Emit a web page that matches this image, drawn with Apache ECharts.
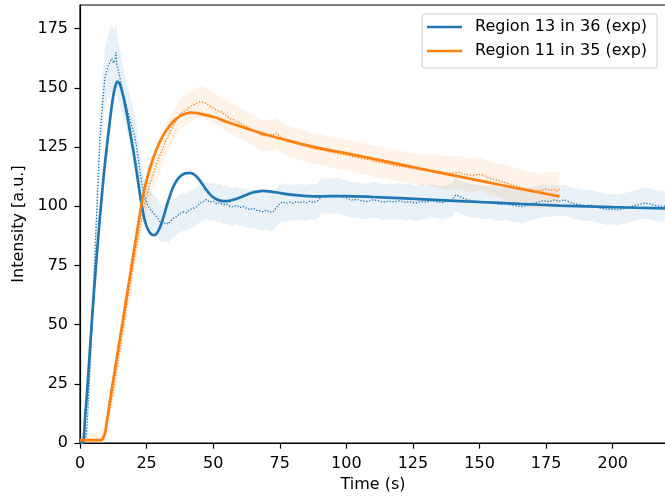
<!DOCTYPE html>
<html>
<head>
<meta charset="utf-8">
<script src="https://cdn.jsdelivr.net/npm/echarts@6/dist/echarts.min.js"></script>
<style>
  html, body { margin: 0; padding: 0; background: #fff; }
  #main-chart { width: 665px; height: 496px; }
</style>
</head>
<body>
<div id="main-chart"></div>
<script>
var blueName = 'Region 13 in 36 (exp)';
var orangeName = 'Region 11 in 35 (exp)';

var xTicks = [0, 25, 50, 75, 100, 125, 150, 175, 200];
var yTicks = [0, 25, 50, 75, 100, 125, 150, 175];

// blue: measured (dotted) + spread, then model (solid)
var blueExpT = [0, 1, 2, 2.5, 3.5, 4.5, 5.5, 6.5, 7.5, 8.5, 9.4, 10.5, 11.3, 11.9, 12.6, 13.2, 13.5, 13.8, 14.8, 16, 17.5, 19, 20.6, 21.8, 23, 24.4, 25.5, 26.5, 27.7, 28.8, 30, 31.3, 32.2, 33.1, 34, 35, 36.3, 37.5, 38.7, 40, 41.3, 42.5, 43.8, 45, 46.3, 47.5, 48.7, 50, 51.3, 52.5, 53.8, 55, 56.3, 57.5, 58.8, 60, 61.3, 62.5, 63.8, 65, 66.3, 67.5, 68.8, 70, 71.3, 72.5, 73.8, 75, 76.3, 77.5, 78.8, 80, 81.3, 82.5, 83.8, 85, 86.3, 87.5, 88.8, 90, 90.7, 92, 93.5, 95, 96.5, 97.6, 99, 100.5, 102, 104, 106, 108, 110, 112, 114, 116, 118, 120, 122, 124, 126, 128, 130, 132, 134, 136, 138, 139.5, 141, 142.5, 144, 146, 148, 150, 152, 154, 156, 158, 160, 162, 164, 166, 168, 170, 172, 174, 176, 178, 180, 182, 184, 186, 188, 190, 192, 194, 196, 198, 200, 202, 204, 206, 208, 210, 212, 213, 215, 217, 220];
var blueExpV = [0, 0, 1.5, 4, 25, 50, 77, 103, 129, 144, 154.7, 159, 161, 162.4, 160.5, 162, 165, 160, 155.4, 149, 142, 135.5, 129.4, 121, 111, 103, 100.2, 98.4, 96.9, 95.6, 93.5, 92.6, 93.1, 92.4, 93.8, 94.9, 95.6, 97, 97.6, 97.3, 98.6, 99.1, 99.8, 101.3, 101.9, 102.8, 101.7, 102.2, 101.1, 101.5, 100.6, 100.9, 99.9, 99.8, 100.4, 99.5, 99.9, 99.1, 98.6, 99.2, 98.3, 98.1, 97.7, 98.4, 97.5, 97.7, 99.5, 101.2, 101.8, 101.3, 101.7, 101.2, 102, 101.5, 101.9, 101.4, 102.1, 101.6, 101.9, 103.2, 104.7, 104.1, 104.6, 104, 104.5, 104.3, 103.8, 103.2, 102.6, 102.9, 102.2, 102, 102.7, 102.3, 101.7, 102.1, 101.8, 102.3, 101.6, 101.9, 101.3, 102, 101.7, 102.4, 101.9, 101.5, 102.2, 102.6, 104.7, 104.1, 103.3, 102.6, 102.2, 101.9, 101.4, 101.8, 101.1, 100.8, 101.2, 100.4, 100.2, 99.8, 100.6, 101.2, 101.8, 102.3, 102, 102.6, 102.2, 102.7, 101.6, 101, 100.6, 100.2, 100.5, 99.6, 99.1, 98.6, 98.9, 98.4, 99, 99.5, 100.2, 100.8, 101.3, 101.2, 100.6, 100.1, 100];
var blueExpSd = [1, 1.5, 2, 3, 5, 7, 8, 9, 10, 11, 12, 13, 14, 14, 14, 14, 13, 13, 12, 11, 10, 10, 9, 9, 8.5, 8, 8, 8, 8, 8, 8, 8, 8, 8, 8, 8, 8, 8, 8, 8, 8, 8, 8, 8, 8, 8, 8, 8, 8, 8, 8, 8, 8, 8, 8, 8, 8, 8, 8, 8, 8, 8, 8, 8, 8, 8, 8, 8, 8, 8, 7.5, 7.5, 7.5, 7.5, 7.5, 7.5, 7.5, 7.5, 7.5, 7.5, 7.5, 7.5, 7.5, 7.5, 7.5, 7.5, 7.5, 7.5, 7.5, 7.5, 7.5, 7.5, 7.5, 7.5, 7.5, 7.5, 7.5, 7.5, 7.5, 7.5, 7.5, 7.5, 7, 7, 7, 7, 7, 7, 7, 7, 7, 7, 7, 7, 7, 7, 7, 7, 7, 7, 7, 7, 7, 7, 7, 7, 6.5, 6.5, 6.5, 6.5, 6.5, 6.5, 6.5, 6.5, 6.5, 6.5, 6.5, 6.5, 6.5, 6.5, 6.5, 6.5, 6.5, 6.5, 6.5, 6.5, 6.5, 6.5, 6.5, 6.5, 6.5];
var blueFitT = [0, 1, 2, 3, 4, 5, 6, 7, 8, 9, 10, 11, 12, 13, 14, 15, 16, 17, 18, 19, 20, 21, 22, 23, 24, 25, 26, 27, 28, 29, 30, 31, 32, 33, 34, 35, 36.5, 38, 39.5, 41.3, 43, 44.5, 46, 47.5, 49, 50.5, 52, 54, 56, 58, 60, 62, 64, 66, 68.8, 71, 74, 77, 80, 84, 88, 92, 96, 100, 110, 120, 135, 150, 165, 180, 200, 220];
var blueFitV = [0, 0, 12, 27, 44, 60, 75, 89, 102, 114, 124.5, 134, 143, 149.5, 152.6, 151.5, 147.5, 142.5, 136.5, 130, 123.5, 116.5, 109, 101.5, 95.5, 91.5, 89.2, 88, 87.8, 88.8, 91, 94.2, 98, 101.8, 105.2, 108.2, 111.2, 113, 113.9, 114.1, 113.3, 111.6, 109.3, 106.8, 104.8, 103.4, 102.6, 102.2, 102.3, 102.9, 103.7, 104.6, 105.5, 106.1, 106.5, 106.3, 105.8, 105.2, 104.8, 104.4, 104.2, 104.2, 104.3, 104.3, 103.9, 103.4, 102.6, 101.8, 101, 100.3, 99.6, 99.1];

// orange: measured (dotted) + spread, then model (solid)
var orangeExpT = [0, 2, 4, 6, 8, 9, 10, 11, 12.3, 14, 16, 17.3, 18.5, 20, 22, 24, 26, 28, 30, 32.5, 35, 36.3, 37.5, 38.8, 40, 41.3, 42.5, 43.8, 45, 46.3, 47.5, 48.8, 50, 51.3, 52.5, 53.8, 55, 56.3, 57.5, 58.8, 60, 61.3, 62.5, 63.8, 65, 66.3, 67.5, 68.8, 70, 71.3, 72.5, 73.8, 75, 76.3, 77.5, 78.8, 80, 82, 84, 86, 87.5, 90, 92, 93.8, 96, 98, 100, 102, 103.8, 106, 108, 110, 112, 114, 116, 118, 120, 122, 124, 126, 128, 130, 132, 135, 137, 139, 141, 142.6, 144, 146, 148, 150, 151.5, 153, 155, 157, 160, 162, 164, 166, 168, 170, 172, 174, 175, 176.5, 178, 179, 180];
var orangeExpV = [1, 1.2, 1, 1.3, 1.5, 3, 7, 13, 21, 33, 47, 56, 65, 75, 88.5, 99.5, 108.5, 115.5, 121.5, 128.5, 134, 136.8, 139, 140, 140.7, 142.2, 142.8, 143.5, 144.1, 143.9, 143.3, 142.3, 141.5, 140.6, 140.1, 139.2, 138.3, 137.1, 136.6, 135.7, 135.3, 134.2, 133.6, 132.6, 131.9, 131.2, 130.3, 129.6, 129.9, 130.4, 130.1, 130.9, 129.4, 128.5, 127.8, 127.2, 126.9, 126.2, 125.6, 125, 124.4, 124, 123.4, 123, 122.5, 122.1, 121.6, 121.1, 120.6, 120.1, 119.8, 119.2, 118.6, 118.3, 117.8, 117.3, 116.9, 116.6, 116.1, 115.8, 115.4, 115.1, 114.9, 114.6, 114.1, 113.9, 114.2, 114.3, 113.6, 113.2, 113.1, 113.5, 113.1, 112.2, 111.5, 110.9, 109.8, 109.1, 108.5, 107.8, 107.2, 106.8, 106.4, 106.8, 107.2, 106.6, 107.1, 106.4, 107.3];
var orangeExpSd = [3, 3, 3, 3, 3, 3.5, 4, 4.5, 5, 5.5, 6, 6, 6, 6.5, 6.5, 6.5, 6.5, 6.5, 6.5, 6.5, 6.5, 6.5, 6.5, 6.5, 6.5, 6.5, 6.5, 6.5, 6.5, 6.5, 6.5, 6.5, 6.5, 6.5, 6.5, 6.5, 6.5, 6.5, 6.5, 6.5, 6.5, 6.5, 6.5, 6.5, 6.5, 6.5, 6.5, 6.5, 6.5, 6.5, 6.5, 6.5, 6.5, 6.5, 6.5, 6.5, 6.5, 6.5, 6.5, 6.5, 6.5, 6.5, 6.5, 6.5, 6.5, 6.5, 6.5, 6.5, 6.5, 6.5, 6.5, 6.5, 6.5, 6.5, 6.5, 6.5, 6.5, 6.5, 6.5, 6.5, 6.5, 6.5, 6.5, 7, 7, 7, 7, 7, 7, 7, 7, 7, 7, 7, 7, 7, 7.5, 7.5, 7.5, 7.5, 7.5, 7.5, 7.5, 7.5, 7.5, 7.5, 7.5, 7.5, 7.5];
var orangeFitT = [0, 7.8, 8.5, 9.4, 10, 11.3, 12.3, 14, 16, 17.3, 18, 20, 22, 23.1, 24, 25, 26, 27, 28, 30, 32, 34, 36, 38, 40, 42, 44, 46, 50, 55, 62.5, 70, 75, 80, 87.5, 95, 105, 120, 135, 150, 165, 180];
var orangeFitV = [1.2, 1.2, 1.8, 4.2, 8.5, 18.2, 25.3, 37.2, 51.2, 60.4, 65.3, 79.4, 93.4, 101, 106.3, 111, 115.2, 118.8, 122, 127.3, 131.4, 134.5, 136.8, 138.4, 139.2, 139.5, 139.3, 138.8, 137.8, 135.7, 132.9, 130.2, 128.7, 127.2, 125.1, 123.4, 121.2, 117.7, 114.2, 110.8, 107.4, 104.2];

var blue = '#1f77b4';
var orange = '#ff7f0e';
var font = 'DejaVu Sans';

function pairs(ts, vs) {
    var out = [];
    for (var i = 0; i < ts.length; i++) out.push([ts[i], vs[i]]);
    return out;
}

// shaded spread as one polygon: upper edge forward, lower edge back
function band(name, ts, vs, sds, fill) {
    return {
        name: name,
        type: 'custom',
        silent: true,
        clip: true,
        data: [[0, 0]],
        renderItem: function (params, api) {
            var pts = [];
            for (var i = 0; i < ts.length; i++) pts.push(api.coord([ts[i], vs[i] + sds[i]]));
            for (var j = ts.length - 1; j >= 0; j--) pts.push(api.coord([ts[j], Math.max(0, vs[j] - sds[j])]));
            return { type: 'polygon', shape: { points: pts }, style: { fill: fill } };
        }
    };
}

function dotted(name, ts, vs, color) {
    return {
        name: name, type: 'line', data: pairs(ts, vs),
        symbol: 'none', silent: true,
        lineStyle: { color: color, width: 1.3, type: [1.3, 1.7] }
    };
}

function fit(name, ts, vs, color) {
    return {
        name: name, type: 'line', data: pairs(ts, vs),
        symbol: 'none', smooth: 0.3, silent: true,
        itemStyle: { color: color },
        lineStyle: { color: color, width: 2.7 }
    };
}

var myChart = echarts.init(document.getElementById('main-chart'));

var option = {
    animation: false,
    backgroundColor: '#fff',
    textStyle: { fontFamily: font },
    grid: {
        left: 80, right: -1, top: 5, bottom: 53,
        containLabel: false, outerBoundsMode: 'none',
        show: true, borderColor: '#000', borderWidth: 1.2, backgroundColor: 'transparent'
    },
    legend: {
        orient: 'vertical',
        left: 422, top: 14,
        data: [blueName, orangeName],
        icon: 'rect',
        itemWidth: 35, itemHeight: 2.7, itemGap: 8,
        padding: [5, 10, 9, 5],
        backgroundColor: 'rgba(255,255,255,0.8)',
        borderColor: '#cccccc', borderWidth: 1, borderRadius: 3,
        textStyle: { fontFamily: font, fontSize: 16, color: '#000', padding: [0, 0, 0, 8] }
    },
    xAxis: {
        type: 'value', min: 0, max: 220,
        name: 'Time (s)', nameLocation: 'middle', nameGap: 34,
        nameTextStyle: { fontFamily: font, fontSize: 16, color: '#000' },
        axisLine: { show: true, onZero: false, lineStyle: { color: '#000', width: 1.2 } },
        axisTick: { show: true, length: 5.6, customValues: xTicks, lineStyle: { color: '#000', width: 1.2 } },
        axisLabel: { customValues: xTicks, margin: 13, fontFamily: font, fontSize: 16, color: '#000' },
        splitLine: { show: false }
    },
    yAxis: {
        type: 'value', min: 0, max: 185,
        name: 'Intensity [a.u.]', nameLocation: 'middle', nameGap: 52,
        nameTextStyle: { fontFamily: font, fontSize: 16, color: '#000' },
        axisLine: { show: true, onZero: false, lineStyle: { color: '#000', width: 1.2 } },
        axisTick: { show: true, length: 5.6, customValues: yTicks, lineStyle: { color: '#000', width: 1.2 } },
        axisLabel: { customValues: yTicks, margin: 12, fontFamily: font, fontSize: 16, color: '#000' },
        splitLine: { show: false }
    },
    series: [
        band('blue spread', blueExpT, blueExpV, blueExpSd, 'rgba(31,119,180,0.1)'),
        band('orange spread', orangeExpT, orangeExpV, orangeExpSd, 'rgba(255,127,14,0.1)'),
        dotted('blue data', blueExpT, blueExpV, blue),
        dotted('orange data', orangeExpT, orangeExpV, orange),
        fit(blueName, blueFitT, blueFitV, blue),
        fit(orangeName, orangeFitT, orangeFitV, orange)
    ]
};

myChart.setOption(option);
</script>
</body>
</html>
